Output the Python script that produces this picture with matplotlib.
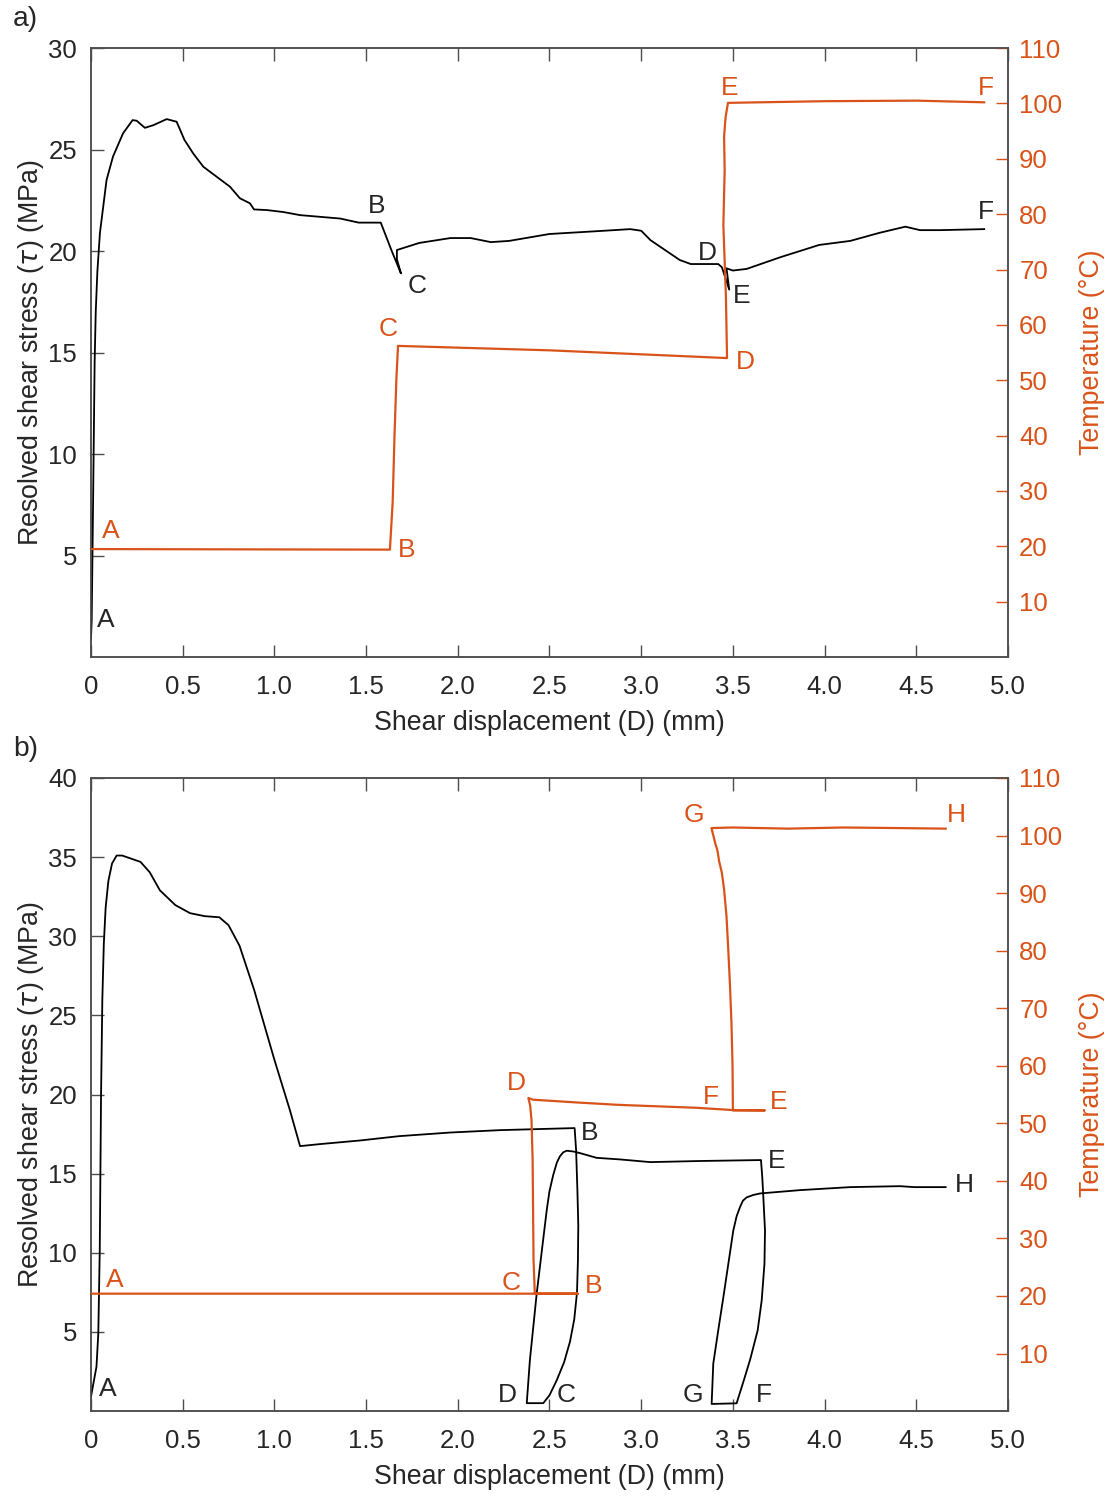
import numpy as np
import matplotlib
matplotlib.use("Agg")
import matplotlib.pyplot as plt

plt.rcParams['font.family'] = ['Liberation Sans', 'DejaVu Sans']
plt.rcParams['mathtext.fontset'] = 'dejavusans'

ORANGE = '#D95319'
TEXT = '#262626'
SPINE = '#4d4d4d'

# ---------------- Panel a: stress (MPa) and temperature (°C) vs displacement (mm)
a_disp = [0.0, 0.004, 0.012, 0.020, 0.026, 0.035, 0.049, 0.085, 0.12, 0.175, 0.227, 0.249,
          0.294, 0.34, 0.413, 0.467, 0.51, 0.558, 0.613, 0.65, 0.758, 0.812, 0.867, 0.889,
          0.958, 1.05, 1.14, 1.36, 1.46, 1.58, 1.64, 1.69, 1.668, 1.668, 1.79, 1.96, 2.07,
          2.18, 2.28, 2.50, 2.78, 2.94, 3.00, 3.05, 3.13, 3.21, 3.27, 3.42, 3.44, 3.48, 3.465,
          3.50, 3.575, 3.76, 3.97, 4.14, 4.30, 4.44, 4.52, 4.63, 4.87]
a_stress = [0.9, 1.8, 8.0, 14.5, 17.0, 19.0, 20.9, 23.5, 24.65, 25.8, 26.45, 26.42,
            26.07, 26.2, 26.5, 26.37, 25.47, 24.8, 24.15, 23.9, 23.17, 22.6, 22.35, 22.05,
            22.02, 21.92, 21.77, 21.6, 21.4, 21.4, 20.0, 18.9, 19.6, 20.05, 20.4, 20.64, 20.64,
            20.44, 20.5, 20.84, 20.99, 21.08, 21.0, 20.54, 20.05, 19.56, 19.36, 19.36, 19.2, 18.1,
            19.15, 19.04, 19.12, 19.7, 20.3, 20.5, 20.9, 21.2, 21.03, 21.03, 21.08]

a_tdisp = [0.0, 1.63, 1.645, 1.655, 1.665, 1.674, 2.5, 3.468, 3.462, 3.448, 3.455, 3.452,
           3.460, 3.473, 4.0, 4.5, 4.87]
a_temp = [19.5, 19.4, 28.0, 40.0, 50.0, 56.2, 55.4, 54.0, 65.0, 78.0, 88.0, 94.0,
          97.5, 100.1, 100.4, 100.5, 100.2]

a_black_labels = [('A', 0.08, 1.8), ('B', 1.56, 22.2), ('C', 1.78, 18.3), ('D', 3.36, 19.9),
                  ('E', 3.55, 17.8), ('F', 4.88, 21.9)]
a_orange_labels = [('A', 0.11, 22.8), ('B', 1.72, 19.4), ('C', 1.62, 59.3), ('D', 3.57, 53.3),
                   ('E', 3.48, 102.7), ('F', 4.88, 102.7)]

# ---------------- Panel b
b_disp = [0.0, 0.03, 0.04, 0.048, 0.055, 0.062, 0.07, 0.08, 0.095, 0.115, 0.14, 0.17,
          0.27, 0.32, 0.376, 0.46, 0.54, 0.62, 0.70, 0.75, 0.81, 0.89, 1.00, 1.085, 1.14,
          1.25, 1.47, 1.68, 1.96, 2.23, 2.637,
          2.645, 2.652, 2.657, 2.655, 2.65, 2.635, 2.612, 2.58, 2.54, 2.50, 2.466,
          2.376, 2.393, 2.43, 2.46, 2.485, 2.50, 2.52, 2.54, 2.557, 2.575, 2.594, 2.63, 2.666,
          2.757, 2.884, 3.05, 3.32, 3.653,
          3.66, 3.666, 3.675, 3.672, 3.657, 3.635, 3.595, 3.56, 3.52,
          3.384, 3.393, 3.42, 3.448, 3.475, 3.502, 3.52, 3.539, 3.555, 3.575, 3.61, 3.648,
          3.866, 4.14, 4.41, 4.49, 4.66]
b_stress = [0.9, 2.8, 4.9, 10.2, 20.0, 26.0, 29.5, 31.8, 33.5, 34.6, 35.1, 35.1,
            34.7, 34.05, 32.9, 31.97, 31.46, 31.27, 31.2, 30.7, 29.4, 26.6, 22.2, 19.0, 16.74,
            16.87, 17.1, 17.37, 17.6, 17.75, 17.88,
            16.5, 14.0, 11.75, 9.5, 7.5, 5.8, 4.4, 3.1, 1.96, 1.0, 0.5,
            0.5, 3.2, 7.4, 10.3, 12.7, 13.9, 14.9, 15.7, 16.1, 16.35, 16.45, 16.4, 16.3,
            16.0, 15.9, 15.73, 15.8, 15.86,
            14.8, 13.5, 11.4, 9.3, 7.0, 5.1, 3.3, 1.96, 0.49,
            0.45, 3.0, 5.1, 7.2, 9.3, 11.4, 12.3, 12.9, 13.3, 13.5, 13.65, 13.75,
            13.96, 14.15, 14.21, 14.15, 14.15]

b_tdisp = [0.0, 2.655, 2.42, 2.413, 2.408, 2.402, 2.395, 2.385, 2.41, 2.66, 2.88, 3.30, 3.50,
           3.675, 3.50, 3.498, 3.492, 3.484, 3.475, 3.465, 3.452, 3.44, 3.425, 3.415, 3.405,
           3.395, 3.383, 3.5, 3.8, 4.1, 4.4, 4.66]
b_temp = [20.4, 20.4, 20.4, 26.3, 43.7, 50.5, 53.0, 54.4, 54.1, 53.6, 53.2, 52.7, 52.3,
          52.25, 52.25, 60.0, 67.5, 74.0, 80.0, 86.0, 90.6, 93.5, 95.5, 97.5, 98.5,
          99.8, 101.3, 101.4, 101.2, 101.4, 101.3, 101.2]

b_black_labels = [('A', 0.09, 1.4), ('B', 2.72, 17.6), ('C', 2.59, 1.0), ('D', 2.27, 1.0),
                  ('E', 3.74, 15.8), ('F', 3.67, 1.0), ('G', 3.28, 1.0), ('H', 4.76, 14.3)]
b_orange_labels = [('A', 0.13, 22.8), ('C', 2.29, 22.3), ('B', 2.74, 21.8), ('D', 2.32, 57.0),
                   ('F', 3.38, 54.6), ('E', 3.75, 53.7), ('G', 3.29, 103.6), ('H', 4.72, 103.6)]

x_ticks = [0, 0.5, 1.0, 1.5, 2.0, 2.5, 3.0, 3.5, 4.0, 4.5, 5.0]
x_ticklabels = ['0', '0.5', '1.0', '1.5', '2.0', '2.5', '3.0', '3.5', '4.0', '4.5', '5.0']
t_ticks = [10, 20, 30, 40, 50, 60, 70, 80, 90, 100, 110]

FS_TICK = 18.5
FS_LABEL = 19.3
FS_ANN = 19

fig = plt.figure(figsize=(11.12, 14.97), dpi=100)


def make_panel(rect, disp, stress, tdisp, temp, ymax, yticks, blabels, olabels, tag):
    ax = fig.add_axes(rect)
    ax.plot(disp, stress, color='black', lw=1.3, zorder=3)
    ax.set_xlim(0, 5)
    ax.set_ylim(0, ymax)
    ax.set_xticks(x_ticks)
    ax.set_xticklabels(x_ticklabels)
    ax.set_yticks(yticks)
    ax.tick_params(direction='in', length=9, width=1, color=SPINE, labelcolor=TEXT,
                   labelsize=FS_TICK, top=True, right=False)
    ax.tick_params(axis='x', pad=13)
    ax.tick_params(axis='y', pad=10)
    for s in ax.spines.values():
        s.set_color(SPINE)
        s.set_linewidth(1.1)
    ax.set_xlabel('Shear displacement (D) (mm)', fontsize=FS_LABEL, color=TEXT, labelpad=8)
    ax.set_ylabel(r'Resolved shear stress ($\tau$) (MPa)', fontsize=FS_LABEL, color=TEXT,
                  labelpad=2)
    for lab, x, y in blabels:
        ax.text(x, y, lab, fontsize=FS_ANN, color=TEXT, ha='center', va='center', zorder=5)

    tx = ax.twinx()
    tx.plot(tdisp, temp, color=ORANGE, lw=1.6, zorder=3)
    tx.set_ylim(0, 110)
    tx.set_yticks(t_ticks)
    tx.tick_params(axis='y', direction='in', length=9, width=1, color=ORANGE,
                   labelcolor=ORANGE, labelsize=FS_TICK, pad=8)
    for s in tx.spines.values():
        s.set_color(SPINE)
        s.set_linewidth(1.1)
    tx.set_ylabel('Temperature (°C)', fontsize=FS_LABEL, color=ORANGE, labelpad=12)
    for lab, x, y in olabels:
        tx.text(x, y, lab, fontsize=FS_ANN, color=ORANGE, ha='center', va='center', zorder=5)
    fig.text(0.023, rect[1] + rect[3] + 0.0195, tag, fontsize=FS_LABEL + 1, color=TEXT,
             ha='center', va='center')
    return ax


make_panel([0.0818, 0.5611, 0.8247, 0.4068], a_disp, a_stress, a_tdisp, a_temp,
           30, [5, 10, 15, 20, 25, 30], a_black_labels, a_orange_labels, 'a)')
make_panel([0.0818, 0.0574, 0.8247, 0.4229], b_disp, b_stress, b_tdisp, b_temp,
           40, [5, 10, 15, 20, 25, 30, 35, 40], b_black_labels, b_orange_labels, 'b)')

fig.savefig('out.png', dpi=100, facecolor='white')
